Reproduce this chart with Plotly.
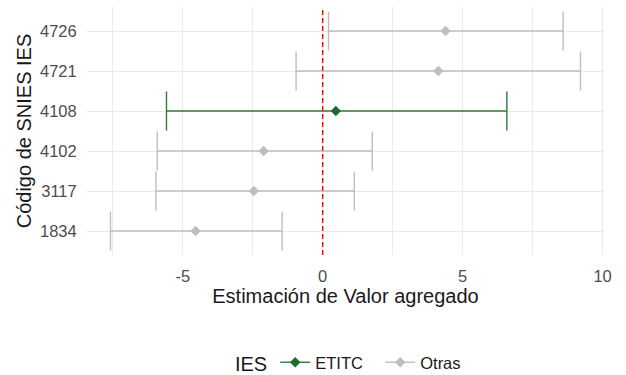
import plotly.graph_objects as go

# Data
codes = ["1834", "3117", "4102", "4108", "4721", "4726"]
groups = ["Otras", "Otras", "Otras", "ETITC", "Otras", "Otras"]
estimate = [-4.54, -2.46, -2.11, 0.47, 4.13, 4.39]
lower = [-7.58, -5.96, -5.91, -5.58, -0.95, 0.21]
upper = [-1.45, 1.13, 1.77, 6.58, 9.21, 8.59]

x_tickvals = [-5, 0, 5, 10]
x_ticktext = ["-5", "0", "5", "10"]

colors = {"ETITC": "#2E7D32", "Otras": "#BEBEBE"}
marker_colors = {"ETITC": "#1F6B2A", "Otras": "#BEBEBE"}

fig = go.Figure()

for g in ["ETITC", "Otras"]:
    xs, ys, ep, em = [], [], [], []
    for c, grp, e, lo, hi in zip(codes, groups, estimate, lower, upper):
        if grp != g:
            continue
        xs += [e, None]
        ys += [c, None]
        ep += [hi - e, None]
        em += [e - lo, None]
    fig.add_trace(go.Scatter(
        x=xs, y=ys, name=g, mode="lines+markers",
        connectgaps=False,
        line=dict(color=colors[g], width=1.4),
        marker=dict(symbol="diamond", size=8, color=marker_colors[g]),
        error_x=dict(type="data", symmetric=False, array=ep, arrayminus=em,
                     color=colors[g], thickness=1.4, width=19.5),
    ))

lo_all, hi_all = min(lower), max(upper)
pad = (hi_all - lo_all) * 0.05

fig.add_shape(type="line", x0=0, x1=0, xref="x", y0=0, y1=1, yref="paper",
              line=dict(color="#FF0000", width=1.4, dash="5px,3px"), layer="above")

fig.update_layout(
    width=626, height=375,
    margin=dict(l=87, r=22, t=7, b=120, autoexpand=False),
    paper_bgcolor="white", plot_bgcolor="white",
    font=dict(family="Liberation Sans, Arial, sans-serif", size=16.5, color="#000000"),
    showlegend=True,
    legend=dict(
        orientation="h", x=0.527, xanchor="center",
        yref="container", y=1 - 363 / 375, yanchor="middle",
        title=dict(text="IES", font=dict(size=20, color="#1A1A1A")),
        font=dict(size=16.5, color="#1A1A1A"),
        itemwidth=30, entrywidth=60,
    ),
    xaxis=dict(
        automargin=False,
        range=[lo_all - pad, hi_all + pad],
        tickvals=x_tickvals, ticktext=x_ticktext,
        showgrid=True, gridcolor="#EBEBEB", gridwidth=1.2,
        minor=dict(dtick=2.5, tick0=0, showgrid=True, gridcolor="#EBEBEB", gridwidth=1),
        zeroline=False, showline=False,
        ticks="outside", ticklen=6, tickcolor="rgba(0,0,0,0)",
        tickfont=dict(size=16.5, color="#4D4D4D"),
        title=dict(text="Estimación de Valor agregado", font=dict(size=20, color="#1A1A1A"), standoff=5),
    ),
    yaxis=dict(
        automargin=False,
        type="category", categoryorder="array", categoryarray=codes,
        range=[-0.6, len(codes) - 0.4],
        showgrid=True, gridcolor="#EBEBEB", gridwidth=1.2,
        zeroline=False, showline=False,
        ticks="outside", ticklen=6, tickcolor="rgba(0,0,0,0)",
        tickfont=dict(size=16.5, color="#4D4D4D"),
        title=dict(text="Código de SNIES IES", font=dict(size=20, color="#1A1A1A"), standoff=2),
    ),
)

fig.write_html("out.html", config={"displayModeBar": False},
               post_script="document.body.style.margin='0';")
